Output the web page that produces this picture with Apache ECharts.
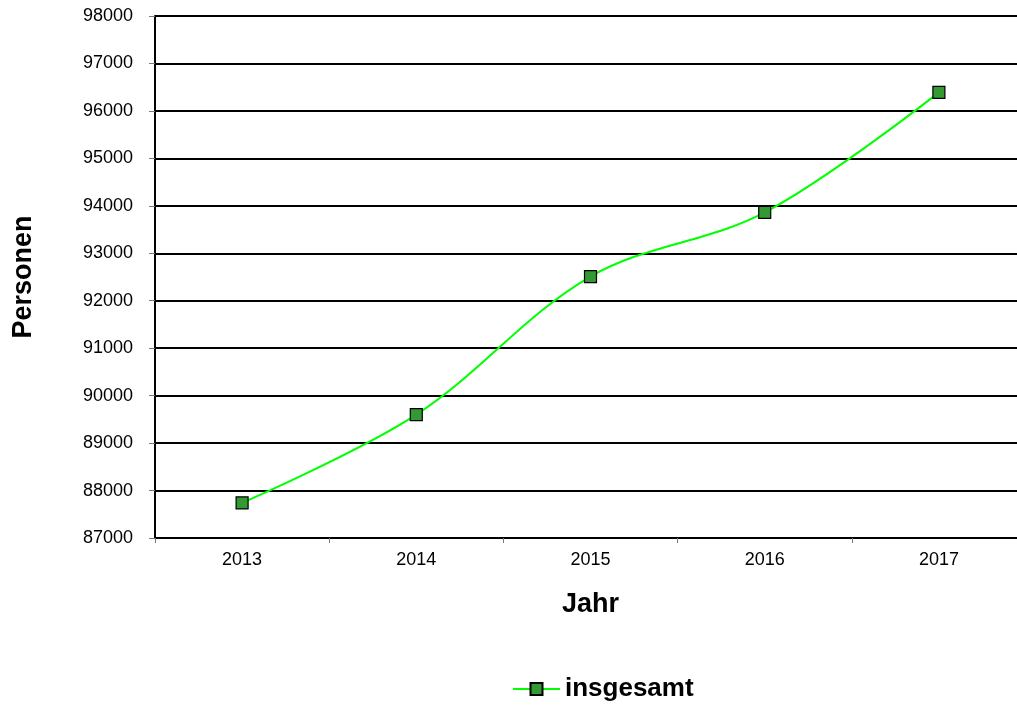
<!DOCTYPE html>
<html>
<head>
<meta charset="utf-8">
<script src="https://cdn.jsdelivr.net/npm/echarts@6/dist/echarts.min.js"></script>
<style>
  html, body { margin: 0; padding: 0; background: #fff; overflow: hidden; }
  /* the canvas is a bit wider than the window so the plot runs off the right edge */
  #chart { width: 1026px; height: 706px; }
</style>
</head>
<body>
<div id="chart"></div>
<script>
// Bevölkerung insgesamt, 2013–2017
const years = ['2013', '2014', '2015', '2016', '2017'];
const insgesamt = [87740, 89600, 92510, 93860, 96390];
const yMin = 87000;
const yMax = 98000;
const yStep = 1000;

const font = '"Liberation Sans", Arial, sans-serif';
const chart = echarts.init(document.getElementById('chart'));

chart.setOption({
  animation: false,
  backgroundColor: '#ffffff',
  textStyle: { fontFamily: font, color: '#000' },
  grid: { left: 155, top: 16, right: 0, bottom: 168, containLabel: false },
  legend: {
    top: 676,
    left: 512,
    padding: 0,
    itemWidth: 47,
    itemHeight: 15,
    itemGap: 4,
    textStyle: { fontFamily: font, fontSize: 26, fontWeight: 'bold', color: '#000' },
    data: ['insgesamt']
  },
  xAxis: {
    type: 'category',
    data: years,
    boundaryGap: true,
    name: 'Jahr',
    nameLocation: 'middle',
    nameGap: 53,
    nameTextStyle: { fontFamily: font, fontSize: 27, fontWeight: 'bold', color: '#000' },
    axisLine: { lineStyle: { color: '#000', width: 2 } },
    axisTick: { show: true, length: 5, lineStyle: { color: '#777' } },
    axisLabel: { fontFamily: font, fontSize: 18, color: '#000', margin: 13 }
  },
  yAxis: {
    type: 'value',
    min: yMin,
    max: yMax,
    interval: yStep,
    name: 'Personen',
    nameLocation: 'middle',
    nameGap: 118,
    nameRotate: 90,
    nameTextStyle: { fontFamily: font, fontSize: 27, fontWeight: 'bold', color: '#000' },
    axisLine: { show: true, lineStyle: { color: '#000', width: 2 } },
    axisTick: { show: true, length: 6, lineStyle: { color: '#777' } },
    axisLabel: {
      fontFamily: font, fontSize: 18, color: '#000', margin: 22,
      formatter: v => String(v)
    },
    splitLine: { show: true, lineStyle: { color: '#000', width: 2 } }
  },
  series: [{
    name: 'insgesamt',
    type: 'line',
    data: insgesamt,
    smooth: 0.35,
    symbol: 'rect',
    symbolSize: 12,
    lineStyle: { color: '#00ff00', width: 2 },
    itemStyle: { color: '#339933', borderColor: '#000', borderWidth: 1.2 }
  }]
});
</script>
</body>
</html>
